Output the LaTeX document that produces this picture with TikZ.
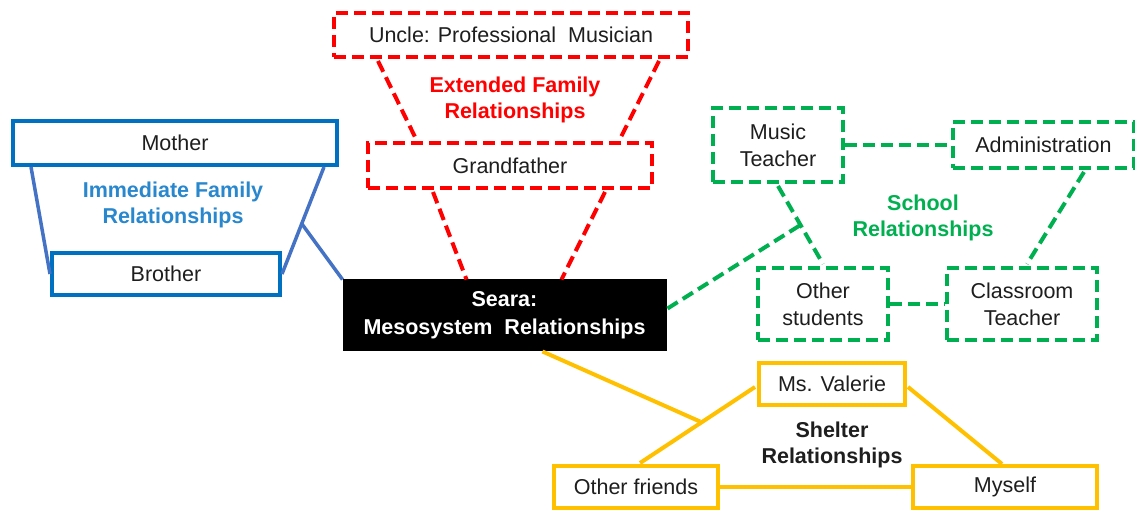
\documentclass[tikz,border=0pt]{standalone}
\usepackage{fontspec}
\setmainfont{Liberation Sans}
\usetikzlibrary{calc}
\definecolor{cblue}{HTML}{0070C0}
\definecolor{cblueline}{HTML}{4472C4}
\definecolor{cbluetext}{RGB}{40,135,205}
\definecolor{cred}{HTML}{FF0000}
\definecolor{cgreen}{HTML}{00B050}
\definecolor{cyellow}{HTML}{FFC000}
\definecolor{ctext}{HTML}{1E1E1E}
\begin{document}
\begin{tikzpicture}[x=1pt,y=-1pt,
  every node/.style={font=\fontsize{21.5}{27}\selectfont, align=center, inner sep=0pt, text=ctext},
  box/.style={draw, line width=4pt, rectangle, fill=white},
  bluebox/.style={box, draw=cblue},
  redbox/.style={box, draw=cred, dash pattern=on 12pt off 6pt},
  greenbox/.style={box, draw=cgreen, dash pattern=on 12pt off 6pt},
  yellowbox/.style={box, draw=cyellow},
  blueline/.style={draw=cblueline, line width=3.5pt},
  redline/.style={draw=cred, line width=4pt, dash pattern=on 12pt off 6pt},
  greenline/.style={draw=cgreen, line width=4pt, dash pattern=on 12pt off 6pt},
  yellowline/.style={draw=cyellow, line width=4pt},
  grouplabel/.style={font=\bfseries\fontsize{21.5}{26.5}\selectfont}
]
\useasboundingbox (0,0) rectangle (1135,510);

% ---- connectors first (under boxes) ----
\coordinate (ma) at (33,165);
\coordinate (mb) at (322,165);

% nodes
\node[bluebox, minimum width=324pt, minimum height=44pt] (mother) at (175,143) {Mother};
\node[bluebox, minimum width=228pt, minimum height=42pt] (brother) at (166,274) {Brother};
\node[redbox, minimum width=354pt, minimum height=44pt] (uncle) at (511,35) {Uncle: Professional\ \ Musician};
\node[redbox, minimum width=284pt, minimum height=45pt] (grand) at (510,165.5) {Grandfather};
\node[draw=black, fill=black, line width=1pt, minimum width=323pt, minimum height=71pt, text=white,
      font=\bfseries\fontsize{21.5}{28}\selectfont] (seara) at (504.5,315.5) {Seara:\\Mesosystem\ \ Relationships};
\node[greenbox, minimum width=130pt, minimum height=74pt] (music) at (778,145) {Music\\Teacher};
\node[greenbox, minimum width=181pt, minimum height=46pt] (admin) at (1043.5,145) {Administration};
\node[greenbox, minimum width=130pt, minimum height=72pt] (others) at (823,304) {Other\\students};
\node[greenbox, minimum width=150pt, minimum height=72pt] (classroom) at (1022,304) {Classroom\\Teacher};
\node[yellowbox, minimum width=146pt, minimum height=42pt] (valerie) at (832,384) {Ms. Valerie};
\node[yellowbox, minimum width=164pt, minimum height=42pt] (friends) at (636,487) {Other friends};
\node[yellowbox, minimum width=184pt, minimum height=42pt] (myself) at (1005,487) {Myself};

% blue connectors
\coordinate (bl1) at ($(mother.south west)+(20,0)$);
\coordinate (br1) at ($(mother.south east)+(-15,0)$);
\draw[blueline] (bl1) -- (brother.west);
\draw[blueline] (br1) -- (brother.east);
\coordinate (bj) at ($(br1)!0.53!(brother.east)$);
\draw[blueline] (bj) -- (seara.north west);

% red connectors
\draw[redline] ($(uncle.south west)+(46,2)$) -- ($(grand.north west)+(50,-2)$);
\draw[redline] ($(uncle.south east)+(-31,2)$) -- ($(grand.north east)+(-34,-2)$);
\draw[redline] ($(grand.south west)+(67,2)$) -- ($(seara.north west)+(124,0)$);
\draw[redline] ($(grand.south east)+(-49,2)$) -- ($(seara.north west)+(219,0)$);

% green connectors
\draw[greenline] (music.east) -- (admin.west);
\draw[greenline] (others.east) -- (classroom.west);
\draw[greenline] ($(music.south)+(0,2)$) -- ($(others.north)+(0,-2)$);
\draw[greenline] ($(admin.south east)+(-52,2)$) -- ($(classroom.north)+(5,-2)$);
\coordinate (gj) at ($(music.south)!0.5!(others.north)$);
\draw[greenline] ($(seara.east)+(1,-7)$) -- (gj);

% yellow connectors
\draw[yellowline] ($(valerie.west)+(-2,3)$) -- ($(friends.north)+(4,-1)$);
\coordinate (yj) at ($(valerie.west)!0.47!(friends.north)$);
\draw[yellowline] ($(seara.south)+(38,0)$) -- (yj);
\draw[yellowline] ($(valerie.east)+(1,3)$) -- ($(myself.north)+(-3,0)$);
\draw[yellowline] (friends.east) -- (myself.west);

% group labels
\node[grouplabel, text=cbluetext] (lblimm) at (173,205) {Immediate Family\\Relationships};
\node[grouplabel, text=cred] (lblext) at (515,100) {Extended Family\\Relationships};
\node[grouplabel, text=cgreen] (lblsch) at (923,218) {School\\Relationships};
\node[grouplabel, text=ctext] (lblshe) at (832,445) {Shelter\\Relationships};
\end{tikzpicture}
\end{document}
